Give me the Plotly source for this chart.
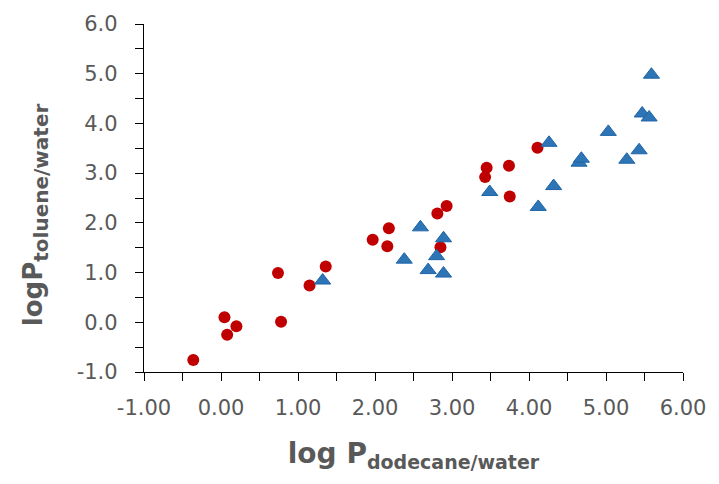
import plotly.graph_objects as go

red_x = [-0.36, 0.045, 0.08, 0.20, 0.74, 0.78, 1.15, 1.36, 1.97, 2.18, 2.16, 2.81, 2.93, 2.85, 3.45, 3.43, 3.74, 3.75, 4.11]
red_y = [-0.76, 0.10, -0.25, -0.08, 0.99, 0.01, 0.74, 1.12, 1.66, 1.89, 1.53, 2.19, 2.34, 1.51, 3.11, 2.92, 3.15, 2.53, 3.51]

blue_x = [1.32, 2.38, 2.59, 2.69, 2.80, 2.89, 2.89, 3.49, 4.12, 4.26, 4.32, 4.65, 4.68, 5.03, 5.27, 5.43, 5.47, 5.56, 5.59]
blue_y = [0.84, 1.26, 1.91, 1.05, 1.33, 0.98, 1.69, 2.62, 2.32, 3.61, 2.74, 3.21, 3.29, 3.83, 3.27, 3.46, 4.20, 4.12, 4.98]

x_ticks = [-1, 0, 1, 2, 3, 4, 5, 6]
x_labels = ["-1.00", "0.00", "1.00", "2.00", "3.00", "4.00", "5.00", "6.00"]
y_ticks = [-1, 0, 1, 2, 3, 4, 5, 6]
y_labels = ["-1.0", "0.0", "1.0", "2.0", "3.0", "4.0", "5.0", "6.0"]

x_title = "log P<sub><span style='font-size:19px'>dodecane/water</span></sub>"
y_title = "logP<sub><span style='font-size:20px'>toluene/water</span></sub>"

GRAY = "#595959"
TICKFONT = dict(family="DejaVu Sans", size=21, color=GRAY)

fig = go.Figure()
fig.add_trace(go.Scatter(
    x=red_x, y=red_y, mode="markers",
    marker=dict(symbol="circle", size=12, color="#C00000", line=dict(width=0)),
    showlegend=False,
))
fig.add_trace(go.Scatter(
    x=blue_x, y=blue_y, mode="markers",
    marker=dict(symbol="triangle-up", size=14, color="#2E75B6",
                line=dict(width=1, color="#1F64A8")),
    showlegend=False,
))

fig.update_layout(
    width=719, height=484,
    margin=dict(l=144, r=36, t=24, b=112),
    paper_bgcolor="white", plot_bgcolor="white",
    xaxis=dict(
        range=[-1, 6], tickvals=x_ticks, ticktext=x_labels,
        showgrid=False, zeroline=False,
        showline=True, linecolor="black", linewidth=1.3,
        ticks="outside", ticklen=8, tickwidth=1.3, tickcolor="black",
        minor=dict(dtick=0.5, ticks="outside", ticklen=8, tickwidth=1.3, tickcolor="black"),
        tickfont=TICKFONT, ticklabelstandoff=9,
        title=dict(
            text=x_title,
            font=dict(family="DejaVu Sans", size=28, color=GRAY, weight="bold"),
            standoff=24,
        ),
    ),
    yaxis=dict(
        range=[-1, 6], tickvals=y_ticks, ticktext=y_labels,
        showgrid=False, zeroline=False,
        showline=True, linecolor="black", linewidth=1.3,
        ticks="outside", ticklen=8, tickwidth=1.3, tickcolor="black",
        minor=dict(dtick=0.5, ticks="outside", ticklen=8, tickwidth=1.3, tickcolor="black"),
        tickfont=TICKFONT, ticklabelstandoff=13,
    ),
    annotations=[dict(
        text=y_title, textangle=-90,
        xref="paper", yref="paper", x=-0.202, y=0.451,
        xanchor="center", yanchor="middle", showarrow=False,
        font=dict(family="DejaVu Sans", size=26, color=GRAY, weight="bold"),
    )],
)

fig.write_html("out.html")
